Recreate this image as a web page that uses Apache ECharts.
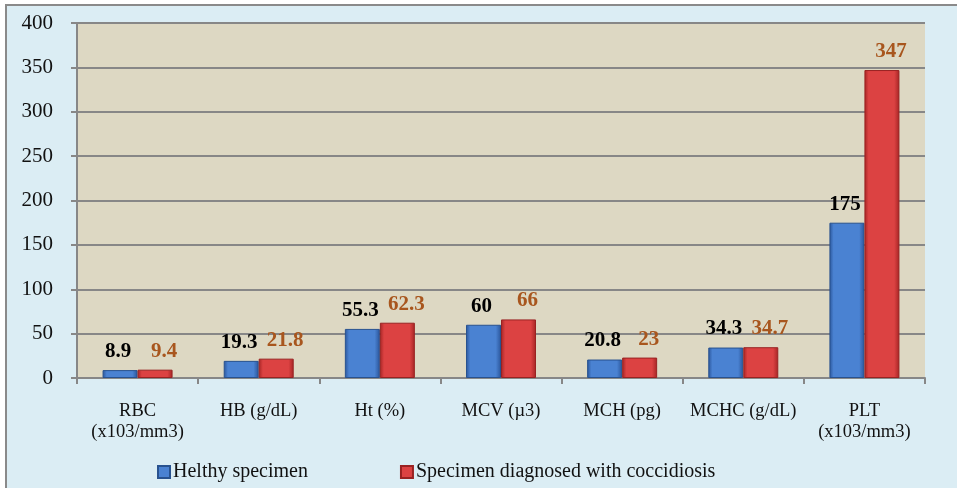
<!DOCTYPE html>
<html>
<head>
<meta charset="utf-8">
<script src="https://cdn.jsdelivr.net/npm/echarts@6/dist/echarts.min.js"></script>
<style>
  html, body { margin: 0; padding: 0; background: #ffffff; }
  #chart { position: absolute; left: 0; top: 0; width: 957px; height: 488px; }
  #frame { position: absolute; left: 5px; top: 4px; width: 952px; height: 484px;
           border-left: 2px solid #8a8a8a; border-top: 2px solid #8a8a8a; background: #dbedf4; }
</style>
</head>
<body>
<div id="frame"></div>
<div id="chart"></div>
<script>
// 类别与数值
const categories = ['RBC\n(x103/mm3)', 'HB (g/dL)', 'Ht (%)', 'MCV (\u00b53)', 'MCH (pg)', 'MCHC (g/dL)', 'PLT\n(x103/mm3)'];
const healthy = [8.9, 19.3, 55.3, 60, 20.8, 34.3, 175];
const infected = [9.4, 21.8, 62.3, 66, 23, 34.7, 347];
const yTicks = { min: 0, max: 400, interval: 50 };

const FONT = '"Liberation Serif", "DejaVu Serif", serif';

// 伪 3D 效果：水平渐变
function barGradient(dark, light) {
  return new echarts.graphic.LinearGradient(0, 0, 1, 0, [
    { offset: 0, color: dark },
    { offset: 0.12, color: light },
    { offset: 0.85, color: light },
    { offset: 1, color: dark },
  ]);
}

const chart = echarts.init(document.getElementById('chart'));

chart.setOption({
  backgroundColor: 'transparent',
  animation: false,
  grid: { left: 77, right: 32, top: 23, bottom: 110, backgroundColor: '#ddd8c3', show: true, borderWidth: 0 },
  legend: {
    left: 152,
    top: 457,
    itemWidth: 12,
    itemHeight: 12,
    itemGap: 92,
    textStyle: { fontFamily: FONT, fontSize: 20, color: '#111', padding: [0, 0, 0, -2] },
    data: [
      { name: 'Helthy specimen', icon: 'rect' },
      { name: 'Specimen diagnosed with coccidiosis', icon: 'rect' },
    ],
  },
  xAxis: {
    type: 'category',
    data: categories,
    axisLine: { lineStyle: { color: '#878787', width: 2 } },
    axisTick: { show: true, length: 6, lineStyle: { color: '#878787', width: 2 } },
    axisLabel: { fontFamily: FONT, fontSize: 18.5, color: '#111', margin: 23, lineHeight: 21, interval: 0 },
  },
  yAxis: {
    type: 'value',
    min: yTicks.min,
    max: yTicks.max,
    interval: yTicks.interval,
    axisLine: { show: true, lineStyle: { color: '#878787', width: 2 } },
    axisTick: { show: true, inside: false, length: 6, lineStyle: { color: '#878787', width: 2 } },
    splitLine: { lineStyle: { color: '#878787', width: 2 } },
    axisLabel: { fontFamily: FONT, fontSize: 21, color: '#111', margin: 24 },
  },
  series: [
    {
      name: 'Helthy specimen',
      type: 'bar',
      data: healthy,
      barWidth: 35,
      barGap: '0%',
      itemStyle: { color: barGradient('#2a559a', '#4a82d2'), borderColor: '#28528f', borderWidth: 1 },
      label: {
        show: true, position: 'top', distance: 8, offset: [-2, 0],
        fontFamily: FONT, fontSize: 21, fontWeight: 'bold', color: '#000',
      },
    },
    {
      name: 'Specimen diagnosed with coccidiosis',
      type: 'bar',
      data: infected,
      barWidth: 35,
      barGap: '0%',
      itemStyle: { color: barGradient('#a52424', '#dc4242'), borderColor: '#992222', borderWidth: 1 },
      label: {
        show: true, position: 'top', distance: 8, offset: [9, 0],
        fontFamily: FONT, fontSize: 21, fontWeight: 'bold', color: '#a8561e',
      },
    },
  ],
});
</script>
</body>
</html>
